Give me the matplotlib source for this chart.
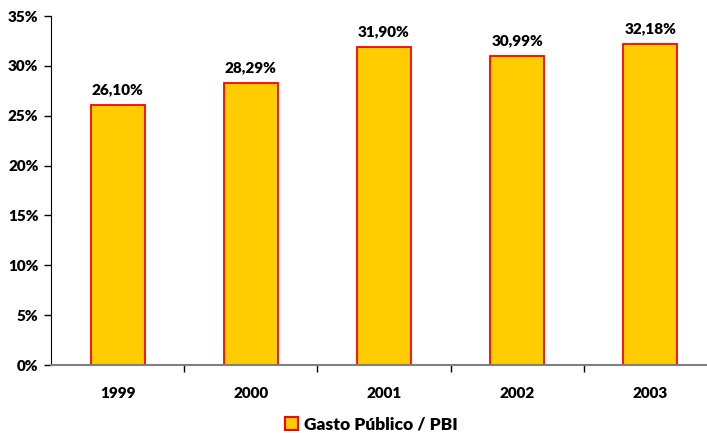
import numpy as np
import matplotlib.pyplot as plt
from matplotlib.patches import Patch
from matplotlib.ticker import FuncFormatter

plt.rcParams['font.family'] = ['Lato', 'DejaVu Sans']
plt.rcParams['font.weight'] = 'heavy'

# Datos
years = ['1999', '2000', '2001', '2002', '2003']
gasto_pbi = [26.10, 28.29, 31.90, 30.99, 32.18]
etiquetas = ['26,10%', '28,29%', '31,90%', '30,99%', '32,18%']

fig = plt.figure(figsize=(7.07, 4.33), dpi=100)
ax = fig.add_axes([0.0721, 0.157, 0.942, 0.806])

x = np.arange(len(years))
bars = ax.bar(x, gasto_pbi, width=0.405, color='#FFCC00', edgecolor='#FF0000',
              linewidth=1.3, zorder=3)

for xi, v, t in zip(x, gasto_pbi, etiquetas):
    ax.text(xi, v + 0.9, t, ha='center', va='bottom', fontsize=11, fontweight='heavy')

ax.set_xlim(-0.5, 4.5)
ax.set_ylim(0, 35)
ax.set_yticks(np.arange(0, 36, 5))
ax.yaxis.set_major_formatter(FuncFormatter(lambda v, p: f'{v:.0f}%'))

ax.set_xticks(x)
ax.set_xticklabels(years)
ax.set_xticks(np.arange(0.5, 4.5, 1), minor=True)
ax.tick_params(axis='x', which='major', length=0, pad=16, labelsize=11)
ax.tick_params(axis='x', which='minor', length=5, width=1, color='black', direction='out')
ax.tick_params(axis='y', length=5, width=1, direction='out', labelsize=11, pad=4)

for s in ['top', 'right']:
    ax.spines[s].set_visible(False)
ax.spines['left'].set_color('black')
ax.spines['bottom'].set_color('#808080')
ax.spines['bottom'].set_linewidth(1.5)
ax.spines['bottom'].set_zorder(4)

handle = Patch(facecolor='#FFCC00', edgecolor='#FF0000', linewidth=1.5)
fig.legend([handle], ['Gasto Público / PBI'], loc='center', bbox_to_anchor=(0.525, 0.02),
           frameon=False, fontsize=12.5, handlelength=0.75, handleheight=0.75,
           handletextpad=0.35)

fig.savefig('out.png', dpi=100)
